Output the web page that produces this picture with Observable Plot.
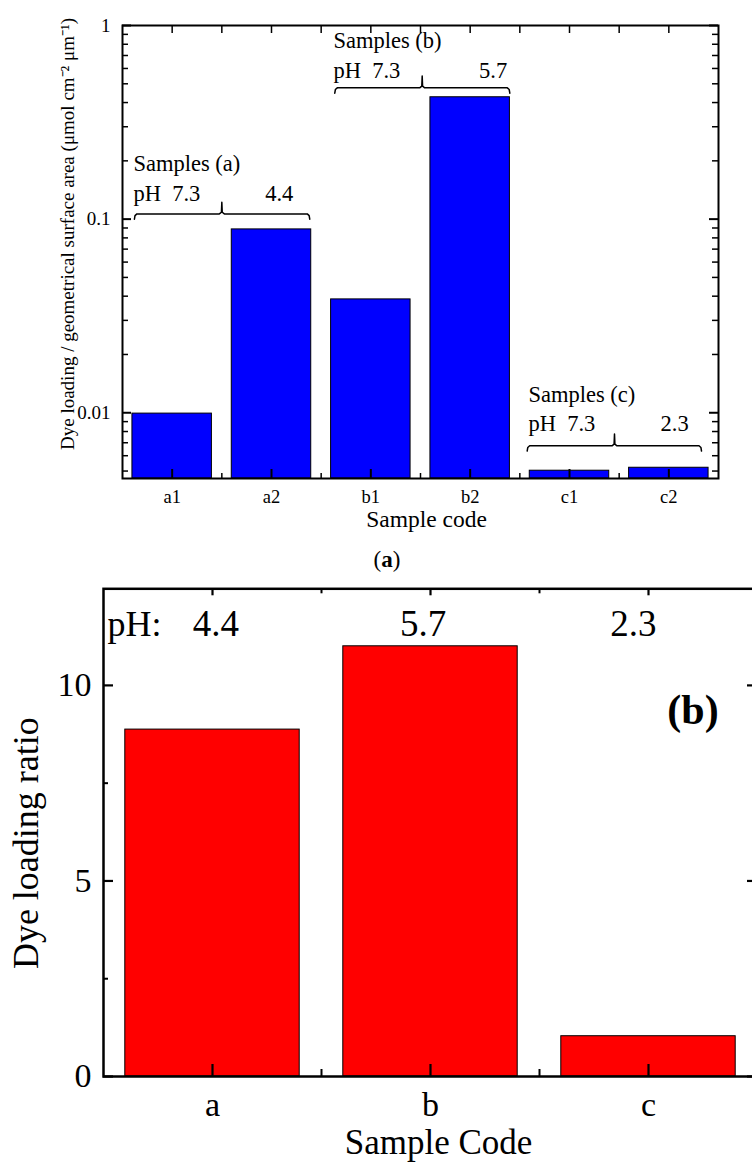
<!DOCTYPE html>
<html><head><meta charset="utf-8">
<script src="https://cdn.jsdelivr.net/npm/d3@7"></script>
<script src="https://cdn.jsdelivr.net/npm/@observablehq/plot@0.6"></script>
<style>
html,body{margin:0;padding:0;background:#fff;width:752px;height:1162px;overflow:hidden;}
#wrap{position:relative;width:752px;height:1162px;overflow:hidden;background:#fff;}
#chartA{position:absolute;left:0;top:0;}
#capA{position:absolute;left:0;width:774px;top:548px;text-align:center;font-family:"Liberation Serif","Times New Roman",serif;font-size:23px;line-height:1;color:#000;}
#chartB{position:absolute;left:0;top:575px;}
svg{max-width:none !important;}
#wrap svg, #wrap svg text{font-family:"Liberation Serif","Times New Roman",serif !important;}
</style></head><body>
<div id="wrap"><div id="chartA"></div><div id="capA">(<b>a</b>)</div><div id="chartB"></div></div>
<script>
// ---------- data: panel (a) ----------
const catsA = ["a1", "a2", "b1", "b2", "c1", "c2"];
const valsA = [0.0099, 0.0885, 0.0385, 0.426, 0.00502, 0.0052];
const yMajorA = [0.01, 0.1, 1];
const yMinorA = [0.005, 0.006, 0.007, 0.008, 0.009, 0.02, 0.03, 0.04, 0.05, 0.06, 0.07, 0.08, 0.09, 0.2, 0.3, 0.4, 0.5, 0.6, 0.7, 0.8, 0.9];
const yDomainA = [0.004576, 1];
const groupsA = ["a", "b", "c"];
const phLowA = ["7.3", "7.3", "7.3"];
const phHighA = ["4.4", "5.7", "2.3"];
// annotation anchors in data units (x: sample index, y: log-scale value)
const braceStartA = [0.12, 2.137, 4.074];
const braceMidA = [1.0, 3.017, 4.953];
const braceEndA = [1.885, 3.899, 5.829];
const braceLevelA = [0.1064, 0.4764, 0.00675];
const titleXA = [0.11, 2.124, 4.087];
const titleYA = [0.178, 0.767, 0.0113];
const phYA = [0.1247, 0.537, 0.00807];
const phHighXA = [1.72, 3.873, 5.70];

// ---------- data: panel (b) ----------
const catsB = ["a", "b", "c"];
const valsB = [8.87, 11.0, 1.03];
const phB = ["4.4", "5.7", "2.3"];
const phXB = [0.516, 1.466, 2.431];
const yMajorB = [0, 5, 10];
const yMinorB = [2.5, 7.5];
const yDomainB = [0, 12.47];

const FONT = '"Liberation Serif", "Times New Roman", serif';

// ---------- panel (a) ----------
const WA = 752, HA = 535, mA = {top: 25, right: 34, bottom: 57, left: 122};
const fwA = WA - mA.left - mA.right, fhA = HA - mA.top - mA.bottom;
const barsA = catsA.map((c, i) => ({code: c, i, v: valsA[i]}));
const centersA = catsA.map((_, i) => i + 0.5);
const boundsA = d3.range(1, catsA.length);
const braceData = [];
groupsA.forEach((g, k) => {
  const x0 = braceStartA[k], xm = braceMidA[k], x1 = braceEndA[k], L = braceLevelA[k];
  const h = 1.065, p = 1.15;
  [[x0, L / h], [x0 + 0.006, L / 1.02], [x0 + 0.025, L], [xm - 0.025, L], [xm - 0.004, L * 1.02], [xm, L * p],
   [xm + 0.004, L * 1.02], [xm + 0.025, L], [x1 - 0.025, L], [x1 - 0.006, L / 1.02], [x1, L / h]]
    .forEach(([x, y]) => braceData.push({g, x, y}));
});

const plotA = Plot.plot({
  width: WA, height: HA,
  marginTop: mA.top, marginRight: mA.right, marginBottom: mA.bottom, marginLeft: mA.left,
  style: {fontFamily: FONT, background: "white", color: "black", maxWidth: "none"},
  x: {type: "linear", domain: [0, catsA.length], axis: null},
  y: {type: "log", domain: yDomainA, axis: null},
  marks: [
    Plot.rect(barsA, {x1: d => d.i + 0.1, x2: d => d.i + 0.9, y1: d => yDomainA[0], y2: "v", fill: "#0000ff", stroke: "black", strokeWidth: 1}),
    Plot.ruleY(yMajorA, {y: d => d, insetRight: fwA - 9, stroke: "black", strokeWidth: 2}),
    Plot.ruleY(yMajorA, {y: d => d, insetLeft: fwA - 9, stroke: "black", strokeWidth: 2}),
    Plot.ruleY(yMinorA, {y: d => d, insetRight: fwA - 6, stroke: "black", strokeWidth: 1.5}),
    Plot.ruleY(yMinorA, {y: d => d, insetLeft: fwA - 6, stroke: "black", strokeWidth: 1.5}),
    Plot.ruleX(centersA.concat(boundsA), {x: d => d, insetBottom: fhA - 8, stroke: "black", strokeWidth: 1.5}),
    Plot.ruleX(centersA, {x: d => d, insetTop: fhA - 9, stroke: "black", strokeWidth: 2}),
    Plot.ruleX(boundsA, {x: d => d, insetTop: fhA - 5, stroke: "black", strokeWidth: 1.5}),
    Plot.axisY({ticks: yMajorA, tickSize: 0, tickPadding: 12, tickFormat: d => String(d), fontSize: 19, fontFamily: FONT, label: null}),
    Plot.axisX({ticks: centersA, tickSize: 0, tickPadding: 11, tickFormat: d => catsA[Math.floor(d)], fontSize: 18.5, fontFamily: FONT, label: null}),
    Plot.line(braceData, {x: "x", y: "y", z: "g", stroke: "black", strokeWidth: 1.5, curve: "linear"}),
    Plot.text(groupsA, {x: (d, i) => titleXA[i], y: (d, i) => titleYA[i], text: d => `Samples (${d})`, textAnchor: "start", lineAnchor: "bottom", fontSize: 22.5, fontFamily: FONT}),
    Plot.text(phLowA, {x: (d, i) => titleXA[i], y: (d, i) => phYA[i], text: d => `pH\u00a0\u00a0${d}`, textAnchor: "start", lineAnchor: "bottom", fontSize: 22.5, fontFamily: FONT}),
    Plot.text(phHighA, {x: (d, i) => phHighXA[i], y: (d, i) => phYA[i], text: d => d, textAnchor: "end", lineAnchor: "bottom", fontSize: 22.5, fontFamily: FONT}),
    Plot.text(["Sample code"], {frameAnchor: "bottom", dx: 6, dy: 48.7, lineAnchor: "bottom", textAnchor: "middle", fontSize: 23.5, fontFamily: FONT}),
    Plot.text(["Dye loading / geometrical surface area (\u03bcmol cm\u207b\u00b2 \u03bcm\u207b\u00b9)"], {frameAnchor: "left", rotate: -90, dx: -49, dy: -18, lineAnchor: "bottom", textAnchor: "middle", fontSize: 19, fontFamily: FONT}),
    Plot.frame({stroke: "black", strokeWidth: 2})
  ]
});
document.getElementById("chartA").appendChild(plotA);

// ---------- panel (b) ----------
const WB = 760, HB = 587, mB = {top: 13.3, right: 3, bottom: 86, left: 103};
const fwB = WB - mB.left - mB.right, fhB = HB - mB.top - mB.bottom;
const barsB = catsB.map((c, i) => ({code: c, i, v: valsB[i]}));
const centersB = catsB.map((_, i) => i + 0.5);
const boundsB = d3.range(1, catsB.length);

const plotB = Plot.plot({
  width: WB, height: HB,
  marginTop: mB.top, marginRight: mB.right, marginBottom: mB.bottom, marginLeft: mB.left,
  style: {fontFamily: FONT, background: "white", color: "black", maxWidth: "none"},
  x: {type: "linear", domain: [0, catsB.length], axis: null},
  y: {type: "linear", domain: yDomainB, axis: null},
  marks: [
    Plot.rect(barsB, {x1: d => d.i + 0.1, x2: d => d.i + 0.9, y1: d => 0, y2: "v", fill: "#ff0000", stroke: "black", strokeWidth: 1}),
    Plot.ruleY(yMajorB, {y: d => d, insetRight: fwB - 10, stroke: "black", strokeWidth: 2.2}),
    Plot.ruleY(yMajorB, {y: d => d, insetLeft: fwB - 10, stroke: "black", strokeWidth: 2.2}),
    Plot.ruleY(yMinorB, {y: d => d, insetRight: fwB - 5, stroke: "black", strokeWidth: 2}),
    Plot.ruleY(yMinorB, {y: d => d, insetLeft: fwB - 5, stroke: "black", strokeWidth: 2}),
    Plot.ruleX(centersB, {x: d => d, insetBottom: fhB - 7, stroke: "black", strokeWidth: 2.2}),
    Plot.ruleX(boundsB, {x: d => d, insetBottom: fhB - 5, stroke: "black", strokeWidth: 2}),
    Plot.ruleX(centersB, {x: d => d, insetTop: fhB - 12, stroke: "black", strokeWidth: 2.2}),
    Plot.ruleX(boundsB, {x: d => d, insetTop: fhB - 7, stroke: "black", strokeWidth: 2}),
    Plot.axisY({ticks: yMajorB, tickSize: 0, tickPadding: 12, tickFormat: d => String(d), fontSize: 34, fontFamily: FONT, label: null}),
    Plot.axisX({ticks: centersB, tickSize: 0, tickPadding: 15, tickFormat: d => catsB[Math.floor(d)], fontSize: 34, fontFamily: FONT, label: null}),
    Plot.text(["pH:"], {frameAnchor: "top-left", dx: 4, dy: 46.7, lineAnchor: "bottom", textAnchor: "start", fontSize: 36, fontFamily: FONT}),
    Plot.text(phB, {x: (d, i) => phXB[i], frameAnchor: "top", dy: 46.7, lineAnchor: "bottom", textAnchor: "middle", fontSize: 37, fontFamily: FONT}),
    Plot.text(["(b)"], {frameAnchor: "top-right", dx: -64.5, dy: 134.7, lineAnchor: "bottom", textAnchor: "middle", fontWeight: "bold", fontSize: 42, fontFamily: FONT}),
    Plot.text(["Dye loading ratio"], {frameAnchor: "left", rotate: -90, dx: -66, dy: 10.5, lineAnchor: "bottom", textAnchor: "middle", fontSize: 36, fontFamily: FONT}),
    Plot.text(["Sample Code"], {frameAnchor: "bottom", dx: 8, dy: 77, lineAnchor: "bottom", textAnchor: "middle", fontSize: 35, fontFamily: FONT}),
    Plot.frame({stroke: "black", strokeWidth: 2.5})
  ]
});
document.getElementById("chartB").appendChild(plotB);
</script></body></html>
